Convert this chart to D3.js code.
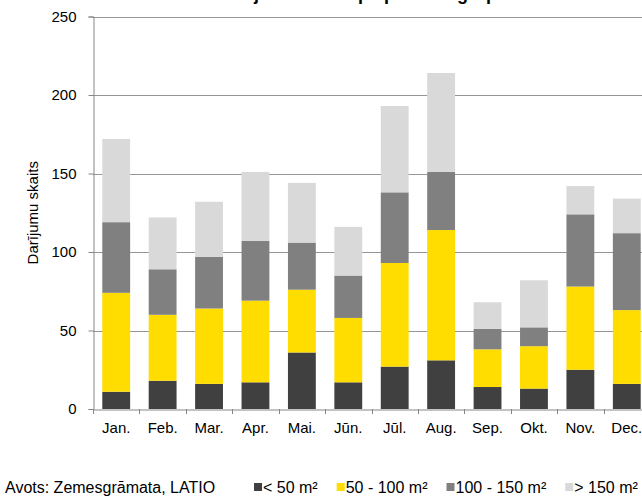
<!DOCTYPE html>
<html>
<head>
<meta charset="utf-8">
<script src="https://cdn.jsdelivr.net/npm/d3@7"></script>
<style>
  html, body { margin: 0; padding: 0; background: #fff; }
  svg { display: block; font-family: Arial, "Liberation Sans", sans-serif; }
</style>
</head>
<body>
<svg id="chart" width="642" height="496"></svg>
<script>
// Monthly transaction counts, split by floor-area group
const months = ["Jan.", "Feb.", "Mar.", "Apr.", "Mai.", "Jūn.", "Jūl.", "Aug.", "Sep.", "Okt.", "Nov.", "Dec."];
const seriesNames = ["< 50 m²", "50 - 100 m²", "100 - 150 m²", "> 150 m²"];
const under50   = [11, 18, 16, 17, 36, 17, 27, 31, 14, 13, 25, 16];
const from50    = [63, 42, 48, 52, 40, 41, 66, 83, 24, 27, 53, 47];
const from100   = [45, 29, 33, 38, 30, 27, 45, 37, 13, 12, 46, 49];
const over150   = [53, 33, 35, 44, 38, 31, 55, 63, 17, 30, 18, 22];
const yTicks = [0, 50, 100, 150, 200, 250];
const chartTitle = "Darījumu skaits pa platības grupām";
const yTitle = "Darījumu skaits";
const sourceNote = "Avots: Zemesgrāmata, LATIO";
const colors = ["#404040", "#FFDD00", "#808080", "#D9D9D9"];

const svg = d3.select("#chart");
const plotLeft = 93, plotRight = 650, plotTop = 16.5, plotBottom = 409;

const rows = months.map((m, i) => ({
  month: m,
  [seriesNames[0]]: under50[i],
  [seriesNames[1]]: from50[i],
  [seriesNames[2]]: from100[i],
  [seriesNames[3]]: over150[i]
}));
const stacked = d3.stack().keys(seriesNames)(rows);

const x = d3.scaleBand().domain(months).range([plotLeft, plotRight]).paddingInner(0.4).paddingOuter(0.2);
const y = d3.scaleLinear().domain([0, 250]).range([plotBottom, plotTop]);
const color = d3.scaleOrdinal().domain(seriesNames).range(colors);

// horizontal gridlines
svg.append("g")
  .selectAll("line")
  .data(yTicks.filter(d => d > 0))
  .join("line")
  .attr("x1", plotLeft).attr("x2", 642)
  .attr("y1", d => Math.round(y(d)) + 0.5).attr("y2", d => Math.round(y(d)) + 0.5)
  .attr("stroke", "#969696").attr("stroke-width", 1);

// stacked bars
svg.append("g")
  .selectAll("g")
  .data(stacked)
  .join("g")
  .attr("fill", d => color(d.key))
  .selectAll("rect")
  .data(d => d)
  .join("rect")
  .attr("x", d => x(d.data.month))
  .attr("width", x.bandwidth())
  .attr("y", d => y(d[1]))
  .attr("height", d => y(d[0]) - y(d[1]));

// y axis
const yAxis = svg.append("g")
  .attr("transform", `translate(${plotLeft + 0.5},0)`)
  .call(d3.axisLeft(y).tickValues(yTicks).tickSize(5).tickPadding(12));
yAxis.select(".domain").attr("stroke", "#868686");
yAxis.selectAll(".tick line").attr("stroke", "#868686");
yAxis.selectAll(".tick text").attr("font-size", 15).attr("fill", "#000")
  .attr("font-family", "Arial, 'Liberation Sans', sans-serif");

// x axis
const xAxis = svg.append("g")
  .attr("transform", `translate(0,${plotBottom + 0.5})`)
  .call(d3.axisBottom(x).tickSize(0).tickPadding(13));
xAxis.select(".domain").attr("stroke", "#868686");
xAxis.selectAll(".tick text").attr("font-size", 15).attr("fill", "#000")
  .attr("font-family", "Arial, 'Liberation Sans', sans-serif");
// tick marks between categories
svg.append("g")
  .selectAll("line")
  .data(d3.range(months.length + 1))
  .join("line")
  .attr("x1", i => Math.round(plotLeft + i * x.step()) + 0.5)
  .attr("x2", i => Math.round(plotLeft + i * x.step()) + 0.5)
  .attr("y1", plotBottom).attr("y2", plotBottom + 5)
  .attr("stroke", "#868686");

// y axis title
svg.append("text")
  .attr("transform", `translate(38,${(plotTop + plotBottom) / 2}) rotate(-90)`)
  .attr("text-anchor", "middle")
  .attr("font-size", 15)
  .text(yTitle);

// chart title: its baseline sits on the top edge of the page
svg.append("text")
  .attr("x", 371).attr("y", 0)
  .attr("text-anchor", "middle")
  .attr("font-size", 18).attr("font-weight", "bold")
  .text(chartTitle);

// source note
svg.append("text")
  .attr("x", 5).attr("y", 493)
  .attr("font-size", 16)
  .text(sourceNote);

// legend
const legend = svg.append("g").attr("transform", "translate(254,493)");
let lx = 0;
seriesNames.forEach((name, i) => {
  const g = legend.append("g").attr("transform", `translate(${lx},0)`);
  g.append("rect").attr("x", 0).attr("y", -10).attr("width", 8).attr("height", 8).attr("fill", colors[i]);
  const t = g.append("text").attr("x", 9).attr("font-size", 16).text(name);
  lx += 9 + t.node().getComputedTextLength() + 19;
});
</script>
</body>
</html>
